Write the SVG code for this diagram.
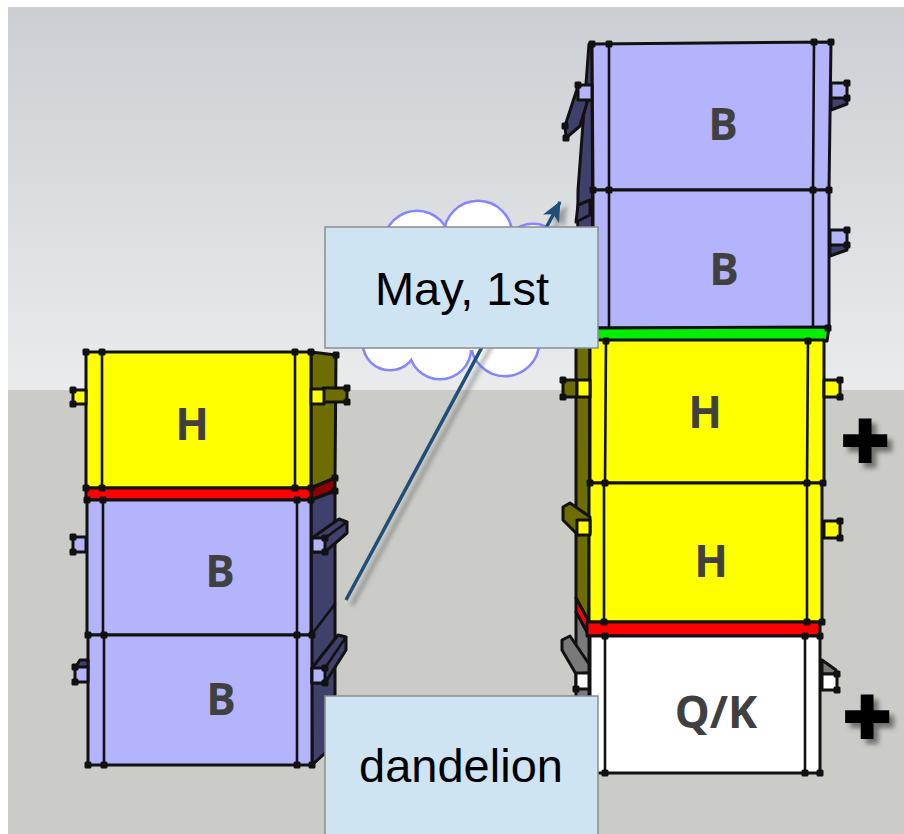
<svg xmlns="http://www.w3.org/2000/svg" xmlns:xlink="http://www.w3.org/1999/xlink" width="904" height="834" viewBox="0 0 904 834">
  <defs>
    <linearGradient id="sky" x1="0" y1="7" x2="0" y2="390" gradientUnits="userSpaceOnUse">
      <stop offset="0" stop-color="#cbcfd3"/>
      <stop offset="1" stop-color="#eaebed"/>
    </linearGradient>
    <filter id="soft" x="-20%" y="-20%" width="140%" height="140%">
      <feGaussianBlur stdDeviation="2.2"/>
    </filter>
    <filter id="drop" x="-30%" y="-30%" width="170%" height="170%">
      <feDropShadow dx="5" dy="5" stdDeviation="2.5" flood-color="#000" flood-opacity="0.45"/>
    </filter>
    <marker id="arrowhead" viewBox="0 0 20 20" markerWidth="20" markerHeight="20" refX="19" refY="10" orient="auto" markerUnits="userSpaceOnUse">
      <path d="M0,1 L20,10 L0,19 L5,10 z" fill="#1f4e79"/>
    </marker>
    <marker id="arrowhead-shadow" viewBox="0 0 20 20" markerWidth="20" markerHeight="20" refX="19" refY="10" orient="auto" markerUnits="userSpaceOnUse">
      <path d="M0,1 L20,10 L0,19 L5,10 z" fill="#666"/>
    </marker>
    <rect id="dot" x="-3.5" y="-3.5" width="7" height="7" fill="#111" rx="1.5"/>
  </defs>
  <style>
    .edge { stroke: #111; stroke-width: 3; stroke-linejoin: round; stroke-linecap: round; }
    .thin { stroke: #111; stroke-width: 2.6; fill: none; stroke-linecap: round; }
    .yellow { fill: #ffff00; }
    .olive { fill: #6e6e00; }
    .lav { fill: #b4b4fd; }
    .navy { fill: #40406d; }
    .red { fill: #ff0000; }
    .dred { fill: #8b0000; }
    .green { fill: #00ee00; }
    .white { fill: #ffffff; }
    .grey { fill: #7a7a7a; }
    .tag { font-family: "Open Sans", "DejaVu Sans", sans-serif; font-weight: 700; font-size: 44px; fill: #404040; text-anchor: middle; }
    .label-box { fill: #cfe4f3; stroke: #8c8c8c; stroke-width: 1.5; }
    .label { font-family: "Liberation Sans", Arial, sans-serif; font-size: 47px; fill: #000; text-anchor: middle; }
    .plus { font-family: "Liberation Sans", Arial, sans-serif; font-weight: 700; font-size: 80px; text-anchor: middle; fill: #000; stroke: #000; stroke-width: 4; stroke-linejoin: miter; }
  </style>

  <!-- backdrop: sky and ground -->
  <rect x="0" y="0" width="904" height="834" fill="#ffffff"/>
  <rect x="8" y="7" width="896" height="384" fill="url(#sky)"/>
  <rect x="8" y="390" width="896" height="444" fill="#cbcbc7"/>

  <!-- left hive: honey super on two brood boxes -->
  <g id="left-hive">
    <!-- right side faces -->
    <polygon class="olive edge" points="311,352 336,355 335,478 311,488"/>
    <polygon class="dred edge" points="311,488 335,478 335,491 311,500"/>
    <polygon class="navy edge" points="311,500 335,491 335,744 312,765"/>
    <line class="thin" x1="312" y1="634" x2="335" y2="604"/>

    <g id="left-super-h">
      <rect class="yellow edge" x="86" y="352" width="225" height="136"/>
      <line class="thin" x1="102" y1="352" x2="102" y2="488"/>
      <line class="thin" x1="295" y1="352" x2="295" y2="488"/>
      <!-- handles -->
      <rect class="yellow edge" x="73" y="390" width="13" height="14"/>
      <rect class="olive edge" x="323" y="388" width="24" height="14"/>
      <rect class="yellow edge" x="311" y="389" width="13" height="15"/>
      <text class="tag" x="192" y="440">H</text>
    </g>

    <g id="left-excluder">
      <rect class="red edge" x="86" y="488" width="225" height="12"/>
    </g>

    <g id="left-brood-b1">
      <rect class="lav edge" x="87" y="500" width="224" height="135"/>
      <line class="thin" x1="103" y1="500" x2="103" y2="635"/>
      <line class="thin" x1="297" y1="500" x2="297" y2="635"/>
      <rect class="lav edge" x="73" y="537" width="13" height="15"/>
      <polygon class="navy edge" points="312,538 339,519 347,522 347,533 325,552 312,552"/>
      <line class="thin" x1="325" y1="538" x2="347" y2="522"/>
      <rect class="lav edge" x="312" y="538" width="13" height="14"/>
      <text class="tag" x="220" y="587">B</text>
    </g>

    <g id="left-brood-b2">
      <rect class="lav edge" x="88" y="635" width="224" height="130"/>
      <line class="thin" x1="104" y1="635" x2="104" y2="765"/>
      <line class="thin" x1="297" y1="635" x2="297" y2="765"/>
      <polygon class="navy edge" points="75,668 80,660 88,660 88,668"/>
      <rect class="lav edge" x="75" y="667" width="13" height="15"/>
      <polygon class="navy edge" points="312,668 338,635 346,637 346,650 325,683 312,683"/>
      <line class="thin" x1="325" y1="668" x2="346" y2="637"/>
      <rect class="lav edge" x="312" y="668" width="13" height="15"/>
      <text class="tag" x="221" y="715">B</text>
    </g>

    <!-- vertex markers -->
    <g>
      <use xlink:href="#dot" x="86" y="352"/><use xlink:href="#dot" x="102" y="352"/>
      <use xlink:href="#dot" x="295" y="352"/><use xlink:href="#dot" x="311" y="352"/>
      <use xlink:href="#dot" x="336" y="355"/>
      <use xlink:href="#dot" x="86" y="488"/><use xlink:href="#dot" x="102" y="488"/>
      <use xlink:href="#dot" x="295" y="488"/><use xlink:href="#dot" x="311" y="488"/>
      <use xlink:href="#dot" x="87" y="500"/><use xlink:href="#dot" x="103" y="500"/>
      <use xlink:href="#dot" x="297" y="500"/><use xlink:href="#dot" x="311" y="500"/>
      <use xlink:href="#dot" x="88" y="635"/><use xlink:href="#dot" x="104" y="635"/>
      <use xlink:href="#dot" x="297" y="635"/><use xlink:href="#dot" x="312" y="635"/>
      <use xlink:href="#dot" x="88" y="765"/><use xlink:href="#dot" x="104" y="765"/>
      <use xlink:href="#dot" x="297" y="765"/><use xlink:href="#dot" x="312" y="765"/>
      <use xlink:href="#dot" x="335" y="478"/><use xlink:href="#dot" x="335" y="491"/>
      <use xlink:href="#dot" x="73" y="390"/><use xlink:href="#dot" x="73" y="404"/>
      <use xlink:href="#dot" x="347" y="388"/><use xlink:href="#dot" x="347" y="402"/>
      <use xlink:href="#dot" x="73" y="537"/><use xlink:href="#dot" x="73" y="552"/>
      <use xlink:href="#dot" x="325" y="538"/><use xlink:href="#dot" x="325" y="552"/>
      <use xlink:href="#dot" x="75" y="667"/><use xlink:href="#dot" x="75" y="682"/>
      <use xlink:href="#dot" x="325" y="668"/><use xlink:href="#dot" x="325" y="683"/>
    </g>
  </g>

  <!-- right hive: queen/brood box, excluder, two supers, escape board, two brood boxes -->
  <g id="right-hive">
    <!-- left side faces -->
    <polygon class="navy edge" points="592,44 589,44 578,190 577,328 593,328"/>
    <polygon class="olive edge" points="576,336 590,340 589,622 576,598"/>
    <polygon class="red edge" points="576,598 589,622 589,636 576,612"/>
    <polygon class="grey edge" points="576,612 589,636 589,773 576,760"/>

    <g id="right-brood-b-top">
      <polygon class="lav edge" points="592,44 831,42 829,190 593,190"/>
      <line class="thin" x1="609" y1="44" x2="609" y2="190"/>
      <line class="thin" x1="814" y1="42" x2="813" y2="190"/>
      <polygon class="navy edge" points="578,86 592,86 580,126 566,138 565,126"/>
      <rect class="lav edge" x="578" y="85" width="14" height="15"/>
      <polygon class="navy edge" points="831,96 847,96 847,104 831,110"/>
      <rect class="lav edge" x="831" y="83" width="16" height="15"/>
      <text class="tag" x="723" y="140">B</text>
    </g>

    <g id="right-brood-b-second">
      <rect class="lav edge" x="593" y="190" width="236" height="138"/>
      <line class="thin" x1="609" y1="190" x2="609" y2="328"/>
      <line class="thin" x1="813" y1="190" x2="813" y2="328"/>
      <polygon class="navy edge" points="578,205 590,200 590,215 576,222"/>
      <polygon class="navy edge" points="830,243 847,243 847,250 830,256"/>
      <rect class="lav edge" x="830" y="230" width="17" height="15"/>
      <text class="tag" x="724" y="285">B</text>
    </g>

    <g id="right-escape-green">
      <polygon class="green edge" points="595,328 829,327 827,341 595,341"/>
    </g>

    <g id="right-super-h1">
      <rect class="yellow edge" x="590" y="340" width="234" height="143"/>
      <line class="thin" x1="606" y1="340" x2="605" y2="483"/>
      <line class="thin" x1="808" y1="340" x2="807" y2="483"/>
      <rect class="olive edge" x="563" y="380" width="14" height="17"/>
      <rect class="yellow edge" x="577" y="380" width="13" height="17"/>
      <rect class="yellow edge" x="824" y="380" width="16" height="17"/>
      <text class="tag" x="705" y="428">H</text>
    </g>

    <g id="right-super-h2">
      <rect class="yellow edge" x="589" y="483" width="233" height="139"/>
      <line class="thin" x1="604" y1="483" x2="604" y2="622"/>
      <line class="thin" x1="807" y1="483" x2="807" y2="622"/>
      <polygon class="olive edge" points="563,507 570,503 590,517 590,533 578,535 563,520"/>
      <rect class="yellow edge" x="577" y="520" width="13" height="15"/>
      <rect class="yellow edge" x="824" y="521" width="16" height="17"/>
      <text class="tag" x="711" y="577">H</text>
    </g>

    <g id="right-excluder-red">
      <rect class="red edge" x="587" y="622" width="233" height="14"/>
    </g>

    <g id="right-brood-qk">
      <rect class="white edge" x="590" y="636" width="230" height="137"/>
      <line class="thin" x1="605" y1="636" x2="605" y2="772"/>
      <line class="thin" x1="805" y1="636" x2="805" y2="773"/>
      <polygon class="grey edge" points="562,640 570,636 589,664 589,673 576,674 562,650"/>
      <rect class="white edge" x="576" y="673" width="13" height="16"/>
      <polygon class="grey edge" points="822,660 836,670 836,674 822,674"/>
      <rect class="white edge" x="822" y="674" width="15" height="16"/>
      <text class="tag" x="716" y="728" font-size="46">Q/K</text>
    </g>

    <!-- vertex markers -->
    <g>
      <use xlink:href="#dot" x="592" y="44"/><use xlink:href="#dot" x="609" y="44"/>
      <use xlink:href="#dot" x="814" y="42"/><use xlink:href="#dot" x="831" y="42"/>
      <use xlink:href="#dot" x="593" y="190"/><use xlink:href="#dot" x="609" y="190"/>
      <use xlink:href="#dot" x="813" y="190"/><use xlink:href="#dot" x="829" y="190"/>
      <use xlink:href="#dot" x="828" y="328"/>
      <use xlink:href="#dot" x="606" y="341"/><use xlink:href="#dot" x="808" y="341"/>
      <use xlink:href="#dot" x="590" y="483"/><use xlink:href="#dot" x="605" y="483"/>
      <use xlink:href="#dot" x="807" y="483"/><use xlink:href="#dot" x="823" y="483"/>
      <use xlink:href="#dot" x="604" y="622"/><use xlink:href="#dot" x="807" y="622"/>
      <use xlink:href="#dot" x="822" y="622"/>
      <use xlink:href="#dot" x="605" y="636"/><use xlink:href="#dot" x="805" y="636"/>
      <use xlink:href="#dot" x="820" y="636"/>
      <use xlink:href="#dot" x="605" y="773"/><use xlink:href="#dot" x="805" y="773"/>
      <use xlink:href="#dot" x="820" y="773"/>
      <use xlink:href="#dot" x="847" y="83"/><use xlink:href="#dot" x="847" y="98"/>
      <use xlink:href="#dot" x="847" y="230"/><use xlink:href="#dot" x="847" y="245"/>
      <use xlink:href="#dot" x="840" y="380"/><use xlink:href="#dot" x="840" y="397"/>
      <use xlink:href="#dot" x="840" y="521"/><use xlink:href="#dot" x="840" y="538"/>
      <use xlink:href="#dot" x="837" y="674"/><use xlink:href="#dot" x="837" y="690"/>
      <use xlink:href="#dot" x="578" y="85"/><use xlink:href="#dot" x="563" y="380"/>
      <use xlink:href="#dot" x="563" y="397"/><use xlink:href="#dot" x="576" y="689"/>
      <use xlink:href="#dot" x="565" y="126"/><use xlink:href="#dot" x="566" y="138"/>
    </g>
  </g>

  <!-- thought cloud behind the date label -->
  <g id="cloud">
    <g fill="none" stroke="#8585ff" stroke-width="5">
      <circle cx="417" cy="244" r="32"/>
      <circle cx="478" cy="235" r="33"/>
      <circle cx="533" cy="255" r="30"/>
      <circle cx="390" cy="343" r="26"/>
      <circle cx="440" cy="348" r="30"/>
      <circle cx="505" cy="342" r="33"/>
      <circle cx="548" cy="320" r="25"/>
      <ellipse cx="470" cy="292" rx="92" ry="58"/>
    </g>
    <g fill="#ffffff">
      <circle cx="417" cy="244" r="32"/>
      <circle cx="478" cy="235" r="33"/>
      <circle cx="533" cy="255" r="30"/>
      <circle cx="390" cy="343" r="26"/>
      <circle cx="440" cy="348" r="30"/>
      <circle cx="505" cy="342" r="33"/>
      <circle cx="548" cy="320" r="25"/>
      <ellipse cx="470" cy="292" rx="92" ry="58"/>
    </g>
  </g>

  <!-- connector: from the dandelion time to the added boxes -->
  <g id="connectors">
    <line x1="352" y1="605" x2="566" y2="207" stroke="#666" stroke-width="4" opacity="0.55" filter="url(#soft)" marker-end="url(#arrowhead-shadow)"/>
    <line x1="346" y1="600" x2="560" y2="202" stroke="#1f4e79" stroke-width="3.5" marker-end="url(#arrowhead)"/>
  </g>

  <!-- labels -->
  <g id="label-date">
    <rect class="label-box" x="325" y="227" width="273" height="121"/>
    <text class="label" x="462" y="305">May, 1st</text>
  </g>
  <g id="label-dandelion">
    <rect class="label-box" x="325" y="696" width="273" height="145"/>
    <text class="label" x="461" y="782">dandelion</text>
  </g>

  <!-- plus markers beside the added boxes -->
  <g id="plus-super">
    <text class="plus" x="865" y="467" filter="url(#drop)">+</text>
  </g>
  <g id="plus-brood">
    <text class="plus" x="867" y="743" filter="url(#drop)">+</text>
  </g>
</svg>
